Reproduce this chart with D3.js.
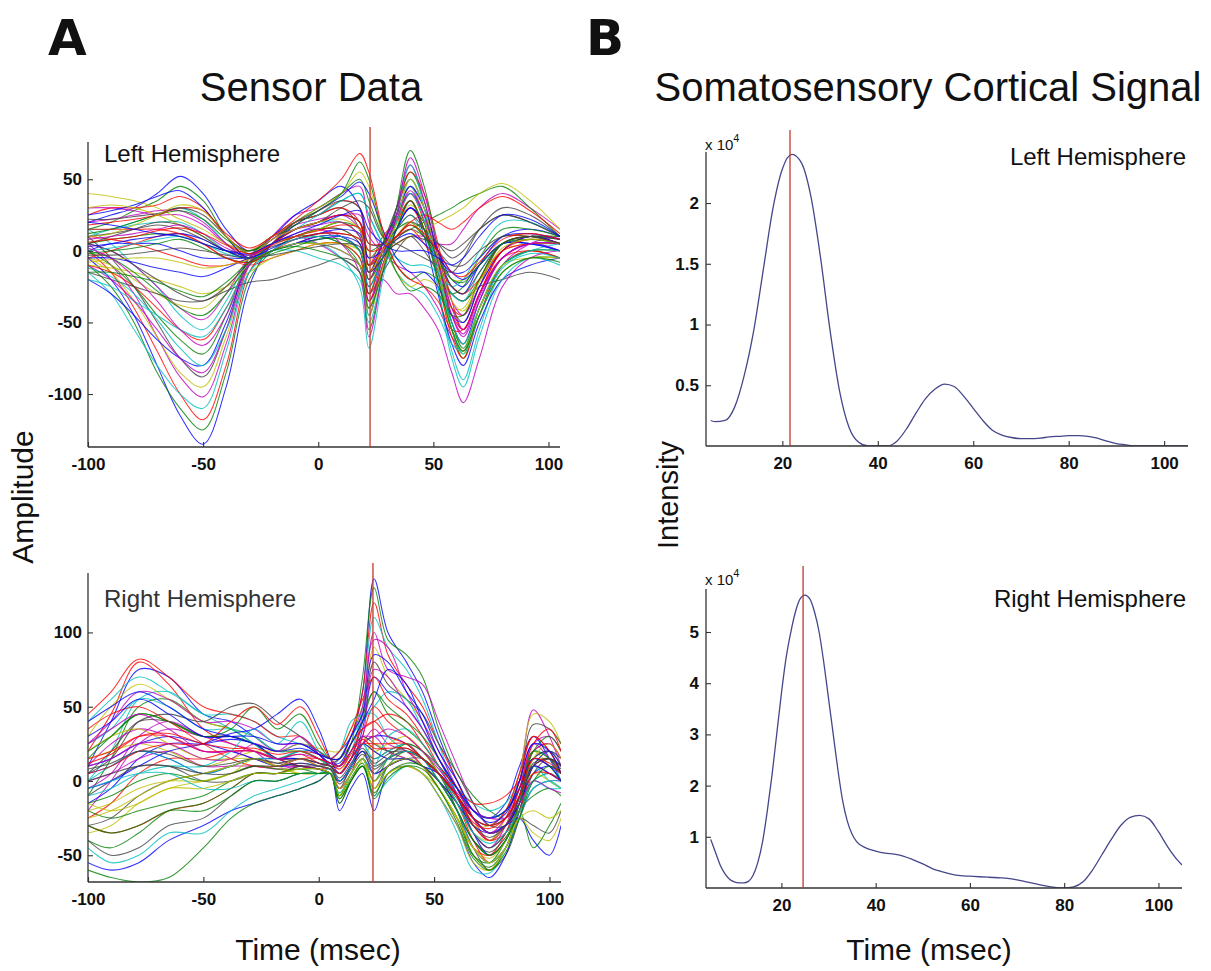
<!DOCTYPE html>
<html><head><meta charset="utf-8">
<script src="https://cdn.jsdelivr.net/npm/d3@7"></script>
<style>
body{margin:0;background:#fff}
svg{display:block}
text{font-family:"Liberation Sans",Arial,Helvetica,sans-serif;fill:#111}
</style>
</head><body>
<svg id="c" width="1211" height="971"></svg>
<script>
// ---------- DATA ----------
const sensorTicksX = [-100, -50, 0, 50, 100];
const leftSensorTicksY = [-100, -50, 0, 50];
const rightSensorTicksY = [-50, 0, 50, 100];
const corticalTicksX = [20, 40, 60, 80, 100];
const leftCorticalTicksY = [0.5, 1, 1.5, 2];
const rightCorticalTicksY = [1, 2, 3, 4, 5];

// Left hemisphere sensor traces (amplitude) sampled at these times (msec)
const tlTimes = [-100,-90,-80,-70,-60,-50,-40,-30,-20,-10,0,10,18,22,28,34,40,46,52,58,63,70,80,92,105];
const tlTraces = [
 [-5,-20,-45,-80,-115,-135,-95,-25,5,15,20,25,20,-15,5,25,40,25,-15,-50,-65,-35,-5,5,0],
 [-10,-25,-50,-85,-110,-125,-85,-20,0,10,15,20,10,-30,0,30,55,35,-10,-55,-75,-40,-10,0,-5],
 [0,-15,-40,-70,-100,-118,-80,-15,5,20,25,35,30,-10,10,20,30,15,-20,-45,-55,-30,0,10,5],
 [-15,-30,-55,-80,-100,-110,-70,-15,0,5,10,5,-5,-40,-5,25,45,20,-25,-70,-90,-55,-15,-5,-5],
 [5,-10,-30,-60,-88,-102,-65,-10,10,25,30,40,45,20,0,-10,-15,-25,-40,-60,-70,-45,-10,5,10],
 [-5,-15,-35,-60,-85,-95,-60,-10,5,10,15,15,5,-25,0,20,35,15,-20,-55,-65,-40,-10,0,0],
 [10,-5,-25,-50,-75,-88,-55,-5,10,20,25,30,15,-15,5,30,50,30,-5,-40,-50,-25,5,10,5],
 [-20,-30,-45,-62,-75,-80,-50,-10,0,5,5,0,-10,-45,-10,15,35,10,-30,-65,-80,-50,-20,-10,-5],
 [0,-10,-25,-45,-62,-72,-45,-5,10,15,20,25,20,-5,5,15,20,10,-10,-30,-35,-20,5,10,10],
 [-10,-15,-25,-40,-55,-62,-40,-10,0,5,10,10,0,-30,-5,20,40,20,-20,-60,-75,-45,-10,0,-5],
 [15,5,-10,-25,-45,-55,-35,-5,10,20,25,35,40,25,5,-15,-25,-30,-45,-65,-70,-40,-10,0,5],
 [5,0,-10,-25,-40,-48,-30,-5,5,10,15,10,0,-35,-5,30,60,35,-5,-45,-60,-35,-5,5,0],
 [-5,-10,-20,-30,-38,-40,-25,-10,0,5,5,5,-5,-40,-10,20,45,25,-15,-55,-72,-45,-15,-5,-5],
 [-15,-20,-25,-30,-35,-35,-28,-22,-20,-15,-10,-5,-10,-30,-15,0,10,0,-15,-30,-35,-25,-20,-15,-20],
 [20,25,30,40,52,40,15,0,10,25,35,45,30,-10,5,25,45,30,0,-25,-30,-10,10,15,10],
 [15,20,28,35,45,35,10,-5,5,20,30,40,50,35,10,-10,-20,-15,-20,-30,-25,-5,15,15,10],
 [25,30,30,32,38,30,10,0,10,20,25,30,20,-15,0,20,35,15,-15,-40,-45,-20,5,10,5],
 [10,15,20,25,30,22,5,-5,5,15,20,20,10,-20,0,15,25,10,-10,-30,-35,-15,5,5,5],
 [30,30,28,25,25,18,5,0,10,18,22,25,25,10,0,5,10,10,5,5,15,30,40,30,15],
 [40,38,35,30,22,15,5,0,10,20,30,40,55,45,10,-15,-25,-20,-25,-40,-40,-20,0,5,5],
 [10,12,15,18,15,8,0,-5,5,10,15,15,5,-20,0,10,20,15,5,-5,0,15,25,20,10],
 [0,5,5,5,0,-5,-5,-5,0,5,10,10,0,-25,-5,15,30,20,0,-20,-25,-10,5,5,0],
 [5,8,10,12,10,5,0,0,5,10,15,20,15,0,5,10,15,20,25,30,35,40,45,30,10],
 [-5,0,5,10,12,5,-5,-10,-5,0,5,5,-5,-35,-10,25,55,40,5,-35,-55,-30,-5,0,-5],
 [15,15,18,20,20,12,0,-5,5,15,25,35,40,25,5,-5,-10,-10,-15,-25,-20,0,20,20,10],
 [20,22,25,28,28,20,5,-5,5,15,20,25,15,-10,5,25,40,25,-5,-35,-45,-25,0,10,5],
 [-10,-12,-15,-20,-25,-30,-25,-15,-5,0,5,5,0,-20,-5,10,20,10,-5,-20,-20,-5,10,10,5],
 [5,0,-10,-20,-30,-35,-25,-8,5,15,20,30,35,30,10,5,0,-5,-10,-15,-5,15,30,25,10],
 [25,28,32,38,42,30,10,-5,5,18,28,38,48,40,15,-5,-15,-15,-25,-45,-50,-25,0,10,5],
 [0,-5,-15,-28,-40,-45,-30,-10,5,10,10,5,-10,-55,-15,30,70,45,0,-50,-68,-40,-10,0,0],
 [10,8,5,0,-5,-10,-10,-5,5,15,20,25,20,5,5,10,15,5,-10,-25,-30,-20,0,5,5],
 [-20,-25,-35,-45,-55,-60,-40,-10,0,0,-5,-10,-20,-50,-15,25,60,30,-25,-75,-95,-60,-20,-5,-10],
 [-10,-20,-35,-55,-75,-85,-55,-10,5,10,5,-5,-15,-35,-20,-30,-30,-40,-55,-85,-106,-75,-25,-5,0],
 [30,32,30,25,18,10,0,-5,5,10,15,20,10,-10,0,5,10,15,20,25,30,40,47,35,15],
 [5,10,15,20,18,10,0,-3,3,8,12,12,8,-10,-3,5,10,8,5,0,5,15,25,20,10],
 [-5,-5,-8,-12,-15,-18,-12,-5,0,5,8,10,5,-15,-5,15,30,20,0,-15,-20,-10,5,5,0],
 [12,15,20,25,28,22,8,0,8,18,28,40,62,50,12,-15,-28,-25,-30,-45,-45,-20,5,10,8],
 [18,20,22,25,30,28,12,2,10,22,35,50,68,55,15,-10,-20,-25,-35,-55,-55,-30,0,8,5],
 [0,2,5,8,10,5,-2,-5,0,5,5,-5,-25,-68,-20,20,50,30,-10,-50,-65,-40,-10,0,0],
 [8,10,12,15,18,12,2,-3,5,12,15,5,-15,-60,-15,25,65,40,0,-40,-55,-30,-5,5,5],
 [-8,-6,-5,-5,-8,-12,-10,-6,0,5,5,0,-10,-45,-12,20,50,30,-10,-55,-70,-40,-10,-5,-5],
 [22,22,24,26,30,25,10,-2,8,20,28,35,30,5,5,15,25,15,-5,-25,-30,-15,5,10,8],
 [3,5,8,10,12,8,0,-5,2,8,12,15,12,-5,0,8,12,5,-5,-15,-15,-5,10,12,8],
 [-2,0,2,5,8,2,-5,-8,-2,3,8,8,0,-20,-5,10,18,10,-5,-20,-22,-10,5,8,5],
 [15,15,15,15,12,5,-5,-8,0,8,12,12,8,-10,0,10,20,25,20,15,20,30,38,28,12],
 [-12,-18,-30,-48,-68,-80,-55,-15,0,8,10,10,0,-25,-5,20,40,22,-15,-55,-72,-45,-12,-2,-5],
 [2,-5,-18,-35,-55,-66,-45,-8,8,15,18,20,10,-20,0,22,42,25,-8,-45,-58,-32,-5,5,5],
 [10,12,18,25,32,28,10,-2,8,15,20,22,15,-15,0,18,32,20,-5,-35,-42,-22,2,8,5],
 [-3,-3,-2,0,2,0,-3,-5,-3,0,3,5,3,-15,-5,8,15,10,0,-10,-10,0,10,10,5],
 [20,18,15,12,10,5,0,-2,5,12,18,25,28,15,5,0,0,0,-5,-10,-5,10,25,22,10],
 [-15,-15,-18,-22,-28,-32,-22,-8,0,3,0,-5,-15,-40,-15,15,35,15,-20,-55,-70,-45,-15,-5,-8],
 [6,8,10,14,16,12,4,-2,4,10,14,18,16,0,2,10,18,12,0,-15,-18,-8,8,12,8]
];

// Right hemisphere sensor traces
const blTimes = [-100,-90,-78,-65,-50,-38,-28,-18,-8,0,5,9,14,19,24,30,38,45,52,60,67,74,81,87,93,100,105];
const blTraces = [
 [10,40,75,70,45,40,30,20,25,20,15,20,30,60,136,100,80,60,30,0,-20,-25,-15,10,30,15,0],
 [-10,15,50,55,40,35,25,15,20,15,10,10,25,70,130,95,85,70,35,5,-10,-20,-25,-5,15,10,0],
 [20,45,80,65,35,25,20,15,20,18,15,15,30,60,120,85,65,50,25,0,-25,-40,-30,0,30,20,5],
 [0,20,55,60,45,45,40,30,25,20,15,10,20,50,110,90,75,55,25,-10,-35,-45,-35,-10,20,15,0],
 [-20,0,25,35,30,30,25,15,15,12,10,5,15,45,100,75,70,65,40,10,-15,-30,-20,5,48,30,10],
 [30,50,65,55,40,35,30,20,25,22,20,20,35,50,90,70,55,40,15,-5,-30,-40,-25,0,20,10,0],
 [5,20,40,40,30,30,25,15,15,10,8,5,15,40,80,65,55,45,25,5,-15,-30,-30,-15,10,15,10],
 [-15,-5,15,25,25,28,25,15,10,8,5,0,10,35,70,60,50,35,15,-10,-35,-50,-40,-15,15,20,10],
 [15,30,45,40,30,30,25,20,20,15,12,15,30,45,60,45,35,25,10,-5,-20,-25,-20,-5,15,10,0],
 [-25,-15,5,15,15,20,20,15,10,8,5,-5,5,30,50,40,30,20,5,-15,-40,-55,-45,-20,10,15,5],
 [40,55,70,60,45,35,25,15,20,20,15,20,40,45,45,30,20,15,5,-5,-15,-20,-15,0,15,10,0],
 [10,25,35,30,20,20,15,10,10,8,5,0,10,25,35,25,20,10,0,-15,-35,-45,-30,-5,25,30,20],
 [-35,-30,-15,-5,0,5,10,8,5,5,5,-10,0,15,25,20,15,10,-5,-25,-50,-60,-45,-20,10,20,15],
 [-40,-50,-45,-30,-25,-10,0,0,5,5,5,-15,0,10,-5,10,15,15,5,-20,-45,-60,-50,-25,5,15,10],
 [-55,-60,-55,-40,-30,-20,-15,-10,-5,0,5,-20,-5,5,-20,5,10,5,-10,-30,-55,-65,-50,-20,10,20,15],
 [-60,-65,-68,-65,-45,-25,-15,-10,-5,0,5,-15,0,10,-10,10,20,15,0,-20,-40,-50,-40,-20,0,5,0],
 [-30,-35,-30,-20,-15,-5,5,5,10,8,8,-5,5,15,5,15,20,10,-5,-25,-45,-50,-35,-10,20,25,15],
 [-45,-55,-50,-35,-35,-20,-10,-5,0,5,8,-10,5,15,-10,0,10,5,-10,-35,-60,-62,-45,-20,0,5,0],
 [0,5,15,20,10,10,10,8,10,8,5,-5,5,15,5,10,15,10,5,-10,-30,-40,-30,-10,20,25,15],
 [20,30,35,25,15,15,15,10,15,12,10,5,15,25,20,15,15,10,0,-15,-30,-30,-20,5,45,40,25],
 [-10,0,10,10,0,0,5,5,10,10,10,0,10,20,15,20,25,20,10,-5,-20,-25,-20,0,38,35,25],
 [5,10,20,15,5,10,15,15,15,12,10,5,15,25,30,30,25,15,5,-10,-25,-35,-30,-15,5,10,5],
 [-20,-25,-20,-15,-10,0,5,5,5,5,5,-10,5,15,0,15,25,20,5,-20,-50,-58,-45,-20,-10,-5,-10],
 [35,45,50,40,25,15,10,10,15,15,12,10,25,35,40,45,40,25,10,-5,-15,-15,-10,0,10,5,0],
 [25,35,55,50,35,35,30,20,20,15,10,15,30,40,50,60,55,35,15,-5,-20,-25,-20,-5,10,0,-5],
 [-5,5,30,40,30,25,20,10,15,10,8,0,10,25,30,20,15,10,0,-20,-45,-55,-45,-25,-5,0,0],
 [15,20,25,20,10,15,20,20,20,15,10,5,20,30,20,25,30,20,5,-15,-35,-40,-30,-10,5,0,-5],
 [-30,-25,-10,0,5,10,15,12,10,8,5,-5,10,20,10,15,20,15,0,-20,-40,-48,-38,-25,-30,-35,-20],
 [10,15,25,30,25,20,15,10,12,10,8,0,10,20,5,10,15,10,0,-15,-30,-35,-30,-25,-40,-50,-30],
 [-15,-10,0,5,0,5,10,8,8,8,5,-10,5,15,0,10,15,10,-5,-25,-50,-55,-40,-20,-45,-30,-15],
 [45,60,82,70,50,45,40,30,30,20,15,20,35,55,70,55,45,30,10,-10,-25,-30,-20,5,30,20,5],
 [0,10,20,15,5,10,15,15,20,15,10,5,15,25,10,30,35,25,10,-10,-25,-30,-25,-15,0,-5,-5],
 [25,40,60,55,40,40,35,25,25,18,12,15,30,50,95,90,60,40,20,-5,-25,-35,-25,0,25,15,5],
 [-25,-20,-10,0,5,10,15,10,5,5,5,-8,5,15,-5,5,10,5,-10,-30,-55,-60,-45,-25,-20,-25,-20],
 [5,15,40,45,40,50,52,40,30,18,10,10,20,30,25,20,20,15,5,-10,-25,-30,-25,-10,15,20,10],
 [-5,0,10,20,25,32,35,45,55,35,15,5,15,25,20,15,15,10,5,-10,-25,-35,-30,-15,10,5,0],
 [20,30,45,40,30,35,50,35,45,25,15,15,25,40,60,50,40,30,15,-5,-25,-35,-30,-10,20,15,5],
 [5,10,20,25,25,40,50,38,50,30,15,10,20,35,40,30,25,15,5,-10,-30,-40,-35,-20,5,5,0],
 [-10,-5,5,10,10,20,35,25,40,20,10,0,10,25,15,20,25,15,0,-20,-45,-55,-45,-25,-5,0,0],
 [10,15,25,25,15,15,25,20,30,18,10,5,15,30,75,70,50,35,15,-5,-25,-35,-30,-10,15,10,5],
 [-20,-15,-5,0,0,5,15,10,15,10,8,-5,5,15,0,10,15,10,-5,-25,-45,-52,-40,-15,15,25,15],
 [0,5,10,10,5,5,10,10,12,10,8,-2,8,18,8,15,20,15,5,-15,-35,-45,-35,-15,10,15,10],
 [30,40,55,45,30,30,30,25,25,18,12,12,25,40,55,75,65,40,15,-5,-20,-25,-20,-5,15,10,0],
 [-40,-45,-35,-20,-15,-5,5,5,8,5,5,-12,0,10,-8,5,12,10,0,-20,-40,-50,-40,-15,20,30,20],
 [15,20,30,30,20,20,20,15,18,12,10,5,15,25,25,25,25,15,5,-10,-25,-30,-25,-5,25,35,20],
 [-5,0,5,5,-5,-5,0,0,5,5,5,-8,5,15,5,15,20,15,5,-15,-35,-42,-35,-20,-5,0,-5],
 [25,35,45,35,20,20,20,15,18,15,12,10,20,30,30,35,30,20,8,-8,-20,-25,-25,-15,0,-5,-8],
 [-15,-20,-15,-5,-5,0,5,5,8,8,5,-10,5,15,-5,5,10,5,-5,-25,-45,-55,-45,-25,-35,-40,-25],
 [8,12,20,18,10,12,15,12,15,12,10,2,12,22,12,18,22,15,5,-12,-30,-38,-30,-12,12,15,8],
 [40,50,60,50,35,30,25,20,22,18,15,15,30,45,85,80,60,45,20,0,-20,-28,-22,0,25,20,5],
 [-30,-35,-30,-20,-20,-10,0,0,5,5,5,-12,2,12,-12,2,10,8,-5,-28,-52,-60,-48,-25,0,10,5],
 [12,18,30,32,25,22,22,18,20,15,12,8,18,28,22,22,22,15,5,-10,-28,-32,-25,-10,15,12,5]
];

// Somatosensory cortical signal (x 10^4)
const lhTimes = [5,6,8,10,12,14,16,18,20,22,24,26,28,30,32,34,36,38,40,42,44,46,48,50,52,54,56,58,60,62,64,66,68,70,72,74,76,78,80,82,84,86,88,90,92,94,100,105];
const lhIntensity = [0.21,0.20,0.21,0.32,0.58,0.95,1.45,1.95,2.28,2.40,2.33,2.05,1.55,0.95,0.45,0.15,0.03,0,0,0,0.04,0.14,0.27,0.39,0.47,0.51,0.49,0.41,0.31,0.21,0.13,0.09,0.07,0.06,0.06,0.065,0.075,0.08,0.085,0.085,0.08,0.065,0.04,0.02,0.01,0,0,0];
const rhTimes = [5,6,7,8,9,10,11,12,13,14,15,16,17,18,19,20,21,22,23,24,25,26,27,28,29,30,31,32,33,34,35,36,38,40,42,44,46,48,50,52,54,56,58,60,62,64,66,68,70,72,74,76,78,80,82,84,86,88,90,92,94,96,98,100,102,104,105];
const rhIntensity = [0.95,0.7,0.45,0.28,0.17,0.12,0.1,0.1,0.13,0.25,0.5,0.9,1.5,2.2,3.0,3.8,4.5,5.0,5.4,5.65,5.72,5.65,5.4,5.0,4.4,3.7,3.0,2.3,1.7,1.3,1.05,0.9,0.78,0.72,0.68,0.66,0.62,0.55,0.47,0.38,0.32,0.27,0.24,0.23,0.22,0.21,0.2,0.19,0.16,0.12,0.08,0.04,0.01,0,0.02,0.12,0.35,0.65,0.95,1.22,1.38,1.42,1.35,1.1,0.8,0.55,0.45];

const markerTimes = {tl: 22.5, bl: 23.5, tr: 21.6, br: 24.6};
const traceColors = ["#0000ff","#008000","#ff0000","#00bfbf","#bf00bf","#bfbf00","#404040"];

// ---------- DRAW ----------
const svg = d3.select("#c");
const fmt = d => String(d);

function panel(o){
  const x = d3.scaleLinear().domain(o.xd).range([o.x0, o.x1]);
  const y = d3.scaleLinear().domain(o.yd).range([o.y1, o.y0]);
  const g = svg.append("g");
  const id = "clip" + o.name;
  svg.append("clipPath").attr("id", id).append("rect")
     .attr("x", o.x0).attr("y", o.y0 - 2).attr("width", o.x1 - o.x0).attr("height", o.y1 - o.y0 + 2);
  const plot = g.append("g").attr("clip-path", `url(#${id})`);
  const ax = g.append("g").attr("transform", `translate(0,${o.y1})`)
    .call(d3.axisBottom(x).tickValues(o.xt).tickSizeInner(-5).tickSizeOuter(0).tickPadding(11).tickFormat(fmt));
  const ay = g.append("g").attr("transform", `translate(${o.x0},0)`)
    .call(d3.axisLeft(y).tickValues(o.yt).tickSizeInner(-5).tickSizeOuter(0).tickPadding(o.ypad).tickFormat(fmt));
  [ax, ay].forEach(a => {
    a.select(".domain").remove();
    a.selectAll("line").attr("stroke", "#333").attr("stroke-width", 1.1);
    a.selectAll("text").style("font-size", "17px").style("font-weight", "bold").attr("fill", "#111");
  });
  g.append("line").attr("x1", o.x0).attr("x2", o.x0).attr("y1", o.y0).attr("y2", o.y1).attr("stroke", "#333").attr("stroke-width", 1.3);
  g.append("line").attr("x1", o.x0).attr("x2", o.x1).attr("y1", o.y1).attr("y2", o.y1).attr("stroke", "#333").attr("stroke-width", 1.3);
  return {x, y, g, plot};
}

function butterfly(p, times, traces){
  const line = d3.line().curve(d3.curveCatmullRom.alpha(0.5))
    .x((d, i) => p.x(times[i])).y(d => p.y(d));
  p.plot.selectAll("path.tr").data(traces).join("path")
    .attr("class", "tr").attr("d", line).attr("fill", "none")
    .attr("stroke", (d, i) => traceColors[i % traceColors.length])
    .attr("stroke-width", 1.05).attr("stroke-opacity", 0.8);
}

function marker(p, t, ytop){
  p.g.append("line").attr("x1", p.x(t)).attr("x2", p.x(t))
   .attr("y1", ytop).attr("y2", p.y(p.y.domain()[0]))
   .attr("stroke", "#c0392b").attr("stroke-width", 1.3);
}

const tl = panel({name: "tl", x0: 88, x1: 560, y0: 142, y1: 447, xd: [-100, 105], yd: [-137, 76], xt: sensorTicksX, yt: leftSensorTicksY, ypad: 6});
butterfly(tl, tlTimes, tlTraces);
marker(tl, markerTimes.tl, 127);

const bl = panel({name: "bl", x0: 88, x1: 561, y0: 573, y1: 882, xd: [-100, 105], yd: [-68, 140], xt: sensorTicksX, yt: rightSensorTicksY, ypad: 6});
butterfly(bl, blTimes, blTraces);
marker(bl, markerTimes.bl, 563);

const cl = d3.line().curve(d3.curveMonotoneX);
const tr = panel({name: "tr", x0: 706, x1: 1188, y0: 152, y1: 446, xd: [4, 105], yd: [0, 2.42], xt: corticalTicksX, yt: leftCorticalTicksY, ypad: 7});
marker(tr, markerTimes.tr, 130);
tr.plot.append("path").attr("d", cl(lhTimes.map((t, i) => [tr.x(t), tr.y(lhIntensity[i])])))
  .attr("fill", "none").attr("stroke", "#45478a").attr("stroke-width", 1.3);

const br = panel({name: "br", x0: 706, x1: 1182, y0: 589, y1: 888, xd: [4, 105], yd: [0, 5.84], xt: corticalTicksX, yt: rightCorticalTicksY, ypad: 7});
marker(br, markerTimes.br, 566);
br.plot.append("path").attr("d", cl(rhTimes.map((t, i) => [br.x(t), br.y(rhIntensity[i])])))
  .attr("fill", "none").attr("stroke", "#45478a").attr("stroke-width", 1.3);

// ---------- TEXT ----------
function txt(x, y, s, size, opts = {}){
  const t = svg.append("text").attr("x", x).attr("y", y).text(s).style("font-size", size + "px");
  if (opts.anchor) t.attr("text-anchor", opts.anchor);
  if (opts.weight) t.style("font-weight", opts.weight);
  if (opts.family) t.style("font-family", opts.family);
  if (opts.fill) t.attr("fill", opts.fill).style("fill", opts.fill);
  if (opts.rotate) t.attr("transform", `rotate(-90,${x},${y})`);
  return t;
}
txt(48, 55, "A", 50, {weight: "bold", family: "'DejaVu Sans',sans-serif"});
txt(586, 55, "B", 50, {weight: "bold", family: "'DejaVu Sans',sans-serif"});
txt(311, 101, "Sensor Data", 40, {anchor: "middle"});
txt(928, 101, "Somatosensory Cortical Signal", 40, {anchor: "middle"});
txt(104, 162, "Left Hemisphere", 24);
txt(104, 607, "Right Hemisphere", 24, {fill: "#333"});
txt(1186, 165, "Left Hemisphere", 24, {anchor: "end"});
txt(1186, 607, "Right Hemisphere", 24, {anchor: "end"});
txt(33, 497, "Amplitude", 30, {anchor: "middle", rotate: true});
txt(678, 495, "Intensity", 29, {anchor: "middle", rotate: true});
txt(318, 960, "Time (msec)", 30, {anchor: "middle"});
txt(929, 960, "Time (msec)", 30, {anchor: "middle"});
[[705, 150], [705, 585]].forEach(([x, y]) => {
  const t = svg.append("text").attr("x", x).attr("y", y).style("font-size", "15px");
  t.append("tspan").text("x 10");
  t.append("tspan").attr("dy", -8).style("font-size", "11px").text("4");
});
</script>
</body></html>
